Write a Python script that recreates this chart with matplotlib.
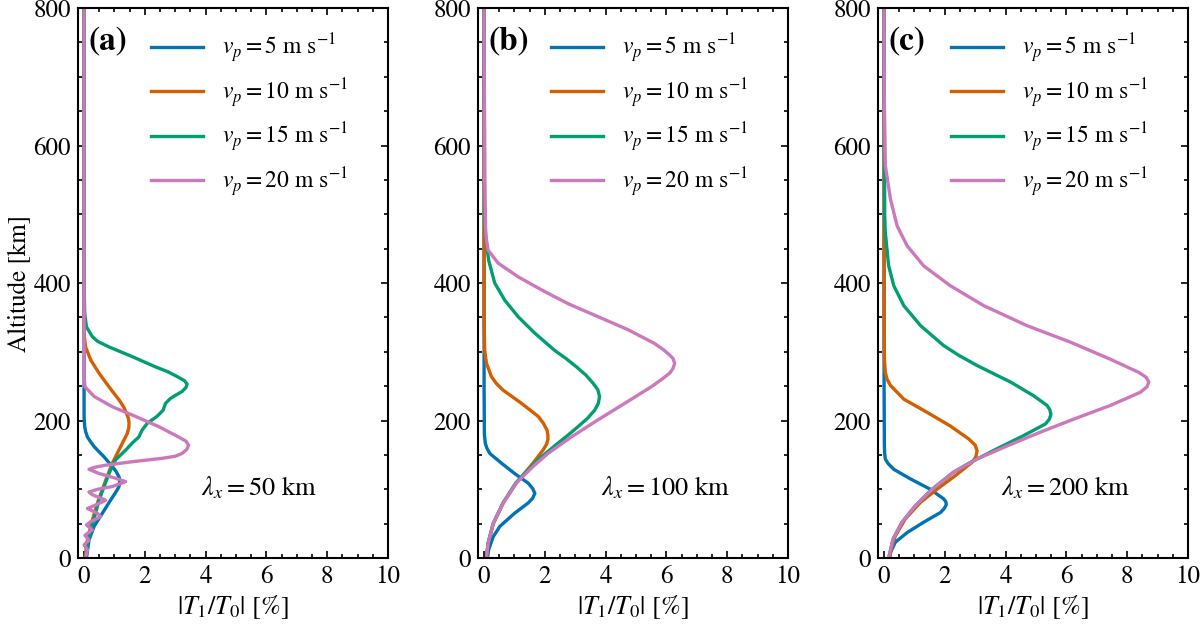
import matplotlib
matplotlib.use("Agg")
import matplotlib.pyplot as plt
from matplotlib.ticker import MultipleLocator

plt.rcParams['font.family'] = ['STIXGeneral', 'DejaVu Serif']
plt.rcParams['mathtext.fontset'] = 'stix'
plt.rcParams['font.size'] = 18

colors = ['#0173B2', '#D55E00', '#029E73', '#CC78BC']
labels = [r'$v_p = 5$ m s$^{-1}$', r'$v_p = 10$ m s$^{-1}$',
          r'$v_p = 15$ m s$^{-1}$', r'$v_p = 20$ m s$^{-1}$']
panel_tags = ['(a)', '(b)', '(c)']
wavelengths = [50, 100, 200]

# panel (a), lambda_x = 50 km
a_v5_alt = [0, 26, 46, 65, 84, 99, 104, 109, 114, 118, 126, 133, 147, 162, 170, 176, 184, 191, 205, 250, 400, 800]
a_v5_val = [0.08, 0.16, 0.33, 0.6, 0.87, 1.09, 1.15, 1.17, 1.17, 1.15, 1.05, 0.93, 0.66, 0.33, 0.2, 0.11, 0.05,
            0.02, 0.0, 0.0, 0.0, 0.0]
a_v10_alt = [0, 26, 55, 84, 113, 138, 152, 167, 181, 189, 196, 203, 210, 220, 230, 249, 269, 288, 307, 322, 340,
             400, 800]
a_v10_val = [0.03, 0.11, 0.27, 0.47, 0.71, 0.93, 1.09, 1.26, 1.42, 1.47, 1.48, 1.46, 1.4, 1.3, 1.15, 0.82, 0.49,
             0.22, 0.05, 0.01, 0.0, 0.0, 0.0]
a_v15_alt = [0, 21, 46, 65, 84, 104, 123, 143, 157, 167, 176, 186, 196, 206, 215, 220, 225, 232, 237, 242, 248,
             253, 258, 264, 271, 278, 293, 307, 315, 322, 336, 356, 400, 800]
a_v15_val = [0.05, 0.11, 0.25, 0.38, 0.49, 0.66, 0.82, 1.04, 1.37, 1.58, 1.8, 1.91, 2.08, 2.4, 2.6, 2.64, 2.68,
             2.84, 3.02, 3.22, 3.35, 3.39, 3.3, 3.06, 2.75, 2.35, 1.58, 0.82, 0.45, 0.27, 0.08, 0.02, 0.0, 0.0]
a_v20_alt = [0, 12, 19, 26, 33, 41, 48, 53, 60, 65, 72, 77, 84, 92, 96, 100, 104, 111, 116, 123, 129, 132, 135,
             140, 145, 148, 152, 158, 164, 170, 176, 191, 206, 220, 235, 249, 264, 300, 800]
a_v20_val = [0.05, 0.11, 0.0, 0.16, 0.03, 0.27, 0.08, 0.22, 0.55, 0.44, 0.11, 0.38, 0.71, 0.27, 0.16, 0.45,
             0.93, 1.37, 1.04, 0.49, 0.16, 0.35, 0.71, 1.58, 2.57, 3.0, 3.22, 3.38, 3.44, 3.35, 3.11, 2.46, 1.69,
             0.93, 0.33, 0.03, 0.0, 0.0, 0.0]

# panel (b), lambda_x = 100 km
b_v5_alt = [0, 12, 31, 46, 65, 80, 87, 94, 101, 109, 123, 138, 152, 160, 167, 180, 250, 800]
b_v5_val = [0.11, 0.15, 0.3, 0.52, 1.0, 1.45, 1.6, 1.67, 1.6, 1.45, 1.0, 0.57, 0.19, 0.09, 0.04, 0.01, 0.0, 0.0]
b_v10_alt = [0, 21, 50, 80, 109, 138, 157, 165, 172, 179, 186, 196, 206, 225, 244, 254, 264, 283, 302, 350, 800]
b_v10_val = [0.08, 0.13, 0.3, 0.63, 1.06, 1.61, 1.94, 2.05, 2.1, 2.1, 2.07, 1.95, 1.78, 1.23, 0.63, 0.4, 0.24,
             0.08, 0.02, 0.0, 0.0]
b_v15_alt = [0, 21, 50, 80, 109, 133, 143, 155, 167, 179, 191, 203, 215, 225, 235, 245, 254, 266, 278, 290, 302,
             327, 351, 375, 400, 433, 472, 500, 800]
b_v15_val = [0.08, 0.13, 0.3, 0.62, 1.04, 1.55, 1.78, 2.1, 2.43, 2.77, 3.09, 3.4, 3.64, 3.76, 3.8, 3.74, 3.59,
             3.35, 3.04, 2.7, 2.32, 1.67, 1.12, 0.68, 0.35, 0.15, 0.04, 0.02, 0.0]
b_v20_alt = [0, 21, 50, 80, 109, 133, 152, 176, 201, 225, 249, 260, 269, 276, 283, 290, 295, 303, 312, 332, 351,
             370, 390, 409, 429, 448, 465, 480, 550, 800]
b_v20_val = [0.08, 0.13, 0.3, 0.63, 1.06, 1.61, 2.1, 2.87, 3.75, 4.63, 5.5, 5.85, 6.11, 6.22, 6.27, 6.22, 6.11,
             5.9, 5.61, 4.74, 3.75, 2.76, 1.89, 1.12, 0.46, 0.13, 0.07, 0.05, 0.02, 0.0]

# panel (c), lambda_x = 200 km
c_v5_alt = [0, 8, 23, 37, 52, 66, 72, 78, 82, 86, 100, 115, 129, 137, 144, 152, 163, 250, 800]
c_v5_val = [0.18, 0.21, 0.37, 0.76, 1.3, 1.85, 1.98, 2.05, 2.03, 1.96, 1.52, 0.87, 0.32, 0.14, 0.04, 0.02, 0.01,
            0.0, 0.0]
c_v10_alt = [0, 13, 32, 57, 81, 100, 120, 139, 147, 156, 164, 173, 192, 212, 231, 251, 260, 270, 290, 350, 800]
c_v10_val = [0.19, 0.23, 0.37, 0.7, 1.2, 1.74, 2.35, 2.89, 3.02, 3.06, 3.0, 2.79, 2.18, 1.41, 0.65, 0.21, 0.1,
             0.04, 0.01, 0.0, 0.0]
c_v15_alt = [0, 28, 52, 76, 100, 125, 139, 159, 178, 195, 202, 209, 216, 222, 236, 256, 280, 295, 309, 338, 367,
             396, 425, 474, 500, 800]
c_v15_val = [0.15, 0.3, 0.59, 1.03, 1.58, 2.29, 2.84, 3.72, 4.59, 5.31, 5.44, 5.49, 5.45, 5.36, 4.92, 4.16,
             3.06, 2.45, 1.96, 1.2, 0.65, 0.32, 0.15, 0.04, 0.02, 0.0]
c_v20_alt = [0, 28, 52, 76, 100, 125, 144, 163, 183, 202, 222, 241, 249, 256, 263, 270, 289, 314, 338, 367, 396,
             425, 454, 483, 522, 571, 650, 800]
c_v20_val = [0.15, 0.3, 0.59, 1.03, 1.58, 2.29, 3.06, 4.05, 5.14, 6.24, 7.45, 8.43, 8.65, 8.71, 8.62, 8.38,
             7.45, 6.13, 4.7, 3.28, 2.18, 1.3, 0.76, 0.43, 0.21, 0.04, 0.01, 0.0]

panels = [
    [(a_v5_val, a_v5_alt), (a_v10_val, a_v10_alt), (a_v15_val, a_v15_alt), (a_v20_val, a_v20_alt)],
    [(b_v5_val, b_v5_alt), (b_v10_val, b_v10_alt), (b_v15_val, b_v15_alt), (b_v20_val, b_v20_alt)],
    [(c_v5_val, c_v5_alt), (c_v10_val, c_v10_alt), (c_v15_val, c_v15_alt), (c_v20_val, c_v20_alt)],
]

fig = plt.figure(figsize=(12, 6.26), dpi=100)
W, H = 1200, 626

for i, curves in enumerate(panels):
    left = 78 + 400 * i
    ax = fig.add_axes([left / W, 1 - 558 / H, 310 / W, 550 / H])
    for (val, alt), col, lab in zip(curves, colors, labels):
        ax.plot(val, alt, color=col, lw=2.4, label=lab, solid_joinstyle='round')
    ax.set_xlim(-0.2, 10)
    ax.set_ylim(0, 800)
    ax.xaxis.set_major_locator(MultipleLocator(2))
    ax.xaxis.set_minor_locator(MultipleLocator(0.5))
    ax.yaxis.set_major_locator(MultipleLocator(200))
    ax.yaxis.set_minor_locator(MultipleLocator(50))
    ax.tick_params(which='both', direction='in', top=True, right=True, width=1.2)
    ax.tick_params(which='major', length=5, labelsize=18, pad=5)
    ax.tick_params(which='minor', length=3)
    for sp in ax.spines.values():
        sp.set_linewidth(1.5)
    ax.set_xlabel(r'$|T_1/T_0|$ [%]', fontsize=19, labelpad=3)
    if i == 0:
        ax.set_ylabel('Altitude [km]', fontsize=18, labelpad=2)
    ax.text(0.035, 0.938, panel_tags[i], transform=ax.transAxes, fontsize=24,
            fontweight='bold', va='center', ha='left')
    ax.text(3.85, 102, r'$\lambda_x = %d$ km' % wavelengths[i], fontsize=19, va='center', ha='left')
    ax.legend(loc='upper left', bbox_to_anchor=(0.235, 0.957), frameon=False, fontsize=17,
              handlelength=2.2, handletextpad=0.8, labelspacing=0.48, borderpad=0, borderaxespad=0)

fig.savefig('out.png', dpi=100)
